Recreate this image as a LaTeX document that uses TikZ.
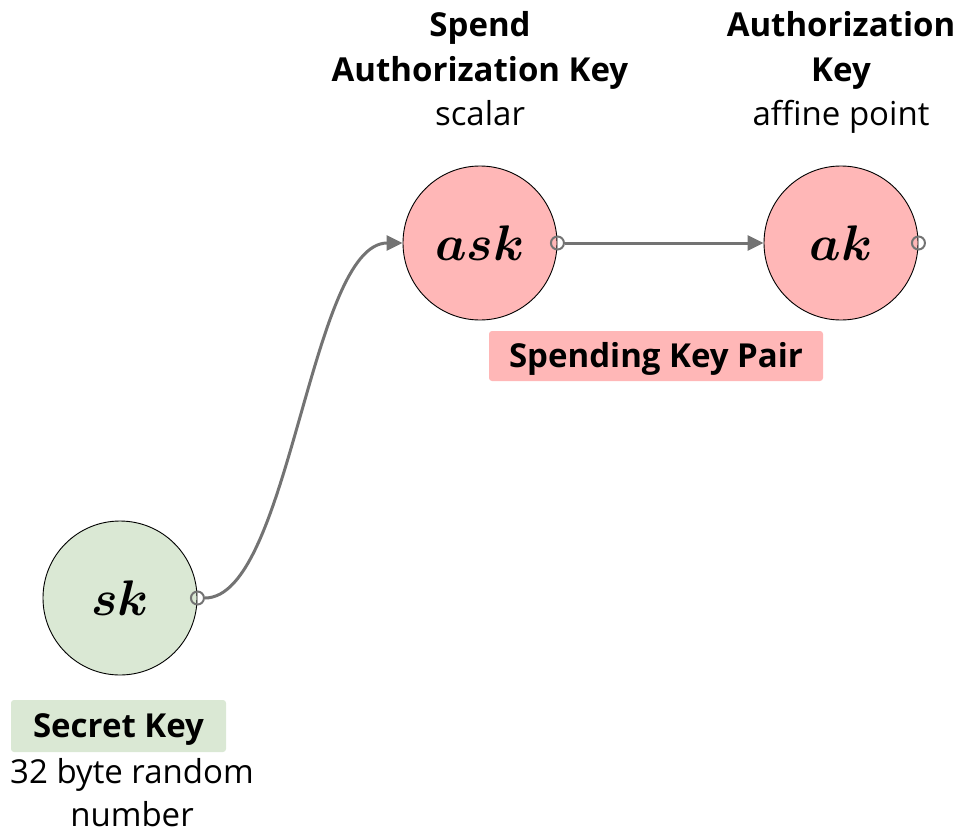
\documentclass[tikz,border=0pt]{standalone}
\usepackage{fontspec}
\usepackage{graphicx}
\setmainfont{Open Sans}
\usetikzlibrary{arrows.meta}
\definecolor{keypink}{HTML}{FFB7B7}
\definecolor{keygreen}{HTML}{DAE8D4}
\definecolor{wire}{HTML}{737373}
\newcommand{\keysym}[1]{\scalebox{5.0}{\boldmath$#1$}}
\tikzset{
  keynode/.style={circle, draw=black, line width=0.9pt, minimum size=154pt, inner sep=0pt},
  port/.style={circle, draw=wire, line width=2pt, minimum size=13pt, inner sep=0pt},
  wirearrow/.style={draw=wire, line width=3pt, -{Triangle[length=16pt,width=15pt]}},
  boldline/.style={anchor=base, font=\fontsize{33}{44}\selectfont\bfseries},
  plainline/.style={anchor=base, font=\fontsize{33}{44}\selectfont},
  tag/.style={rounded corners=3pt, inner sep=0pt, text height=23.5pt, text depth=0pt,
    font=\fontsize{33}{44}\selectfont\bfseries},
}
\begin{document}
\begin{tikzpicture}[x=1pt, y=-1pt]
  \useasboundingbox (0,0) rectangle (961,835);

  % key circles
  \node[keynode, fill=keygreen] (sk)  at (120,598) {\keysym{sk}};
  \node[keynode, fill=keypink]  (ask) at (480,243) {\keysym{ask}};
  \node[keynode, fill=keypink]  (ak)  at (841,243) {\keysym{ak}};

  % output ports
  \node[port] (skout)  at (sk.east)  {};
  \node[port] (askout) at (ask.east) {};
  \node[port] (akout)  at (ak.east)  {};

  % derivations
  \draw[wirearrow] (skout.east) .. controls (290,598) and (310,243) .. (ask.west);
  \draw[wirearrow] (askout.east) -- (ak.west);

  % headings
  \node[boldline]  (askname1) at (480,36)  {Spend};
  \node[boldline]  (askname2) at (480,81)  {Authorization Key};
  \node[plainline] (asktype)  at (480,125) {scalar};
  \node[boldline]  (akname1)  at (841,36)  {Authorization};
  \node[boldline]  (akname2)  at (841,81)  {Key};
  \node[plainline] (aktype)   at (841,125) {affine point};

  % group tags
  \node[tag, fill=keypink, minimum width=334pt, minimum height=50pt] (pair) at (656,356) {Spending Key Pair};
  \node[tag, fill=keygreen, minimum width=215pt, minimum height=52pt] (secret) at (118.5,726) {Secret Key};
  \node[plainline] (skdesc1) at (132,783) {32 byte random};
  \node[plainline] (skdesc2) at (132,826) {number};
\end{tikzpicture}
\end{document}
